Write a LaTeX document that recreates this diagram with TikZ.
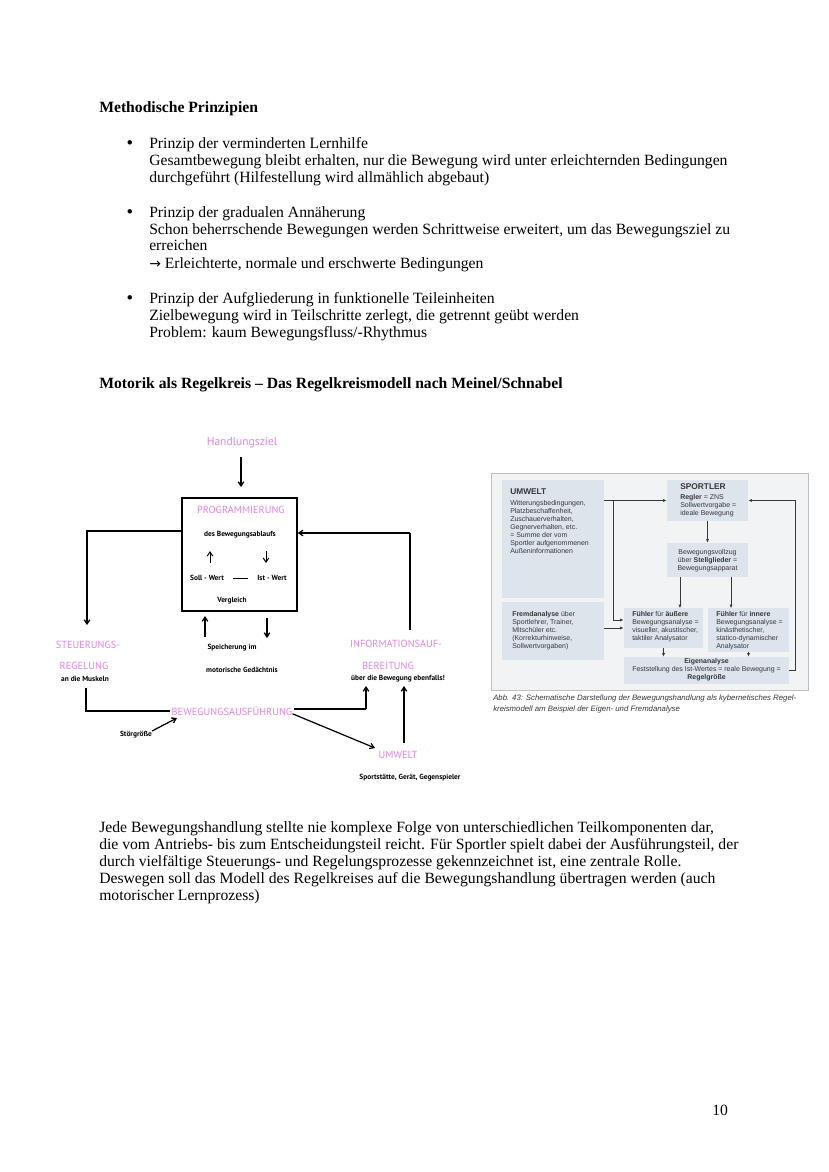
\documentclass[tikz,border=0pt]{standalone}
\usepackage{fontspec}
\setmainfont{Liberation Serif}
\newfontfamily\handfont{PT Sans}
\newfontfamily\printfont{Liberation Sans}
\newfontfamily\symfont{DejaVu Sans}
\usetikzlibrary{arrows.meta}
\definecolor{handpink}{RGB}{226,132,226}
\definecolor{boxfill}{RGB}{221,228,235}
\definecolor{framefill}{RGB}{242,243,245}
\definecolor{printgray}{RGB}{55,55,60}
\tikzset{
  txt/.style={anchor=base west,inner sep=0pt,font=\fontsize{11.25}{13}\selectfont},
  txtb/.style={txt,font=\fontsize{11.25}{13}\selectfont\bfseries},
  pinklab/.style={inner sep=1pt,text=handpink,font=\handfont\fontsize{7.4}{8}\selectfont},
  handlab/.style={inner sep=1pt,font=\handfont\bfseries\fontsize{5.3}{6}\selectfont},
  hline/.style={line width=0.9pt,black},
  harrow/.style={hline,-{Straight Barb[length=3pt,width=4pt]}},
  pbox/.style={fill=boxfill,draw=none,inner sep=0pt},
  ptext/.style={anchor=north west,inner sep=0pt,align=left,text=printgray,font=\printfont\fontsize{5}{5.75}\selectfont},
  pline/.style={line width=0.55pt,printgray},
  parrow/.style={pline,-{Latex[length=2.6pt,width=2.2pt]}},
  bul/.style={anchor=base,inner sep=0pt,font=\symfont\fontsize{11}{13}\selectfont},
}
\begin{document}
\begin{tikzpicture}[x=0.7186pt,y=-0.7186pt]
\useasboundingbox (0,0) rectangle (828,1172);
\fill[white] (0,0) rectangle (828,1172);

% ---------- top text ----------
\node[txtb] (h1) at (99,112) {Methodische Prinzipien};
\node[bul] (b1) at (130,148) {•};
\node[txt] (l11) at (149,148) {Prinzip der verminderten Lernhilfe};
\node[txt] (l12) at (149,165) {Gesamtbewegung bleibt erhalten, nur die Bewegung wird unter erleichternden Bedingungen};
\node[txt] (l13) at (149,182) {durchgeführt (Hilfestellung wird allmählich abgebaut)};
\node[bul] (b2) at (130,217) {•};
\node[txt] (l21) at (149,217) {Prinzip der gradualen Annäherung};
\node[txt] (l22) at (149,234) {Schon beherrschende Bewegungen werden Schrittweise erweitert, um das Bewegungsziel zu};
\node[txt] (l23) at (149,250) {erreichen};
\node[txt] (l24) at (149,268) {{\symfont\fontsize{10}{11}\selectfont →} Erleichterte, normale und erschwerte Bedingungen};
\node[bul] (b3) at (130,303) {•};
\node[txt] (l31) at (149,303) {Prinzip der Aufgliederung in funktionelle Teileinheiten};
\node[txt] (l32) at (149,320) {Zielbewegung wird in Teilschritte zerlegt, die getrennt geübt werden};
\node[txt] (l33) at (149,337) {Problem: kaum Bewegungsfluss/-Rhythmus};
\node[txtb] (h2) at (99,388) {Motorik als Regelkreis – Das Regelkreismodell nach Meinel/Schnabel};

% ---------- hand-drawn diagram ----------
\node[pinklab,font=\handfont\fontsize{8.3}{9}\selectfont] (hz) at (242,443) {Handlungsziel};
\node[draw,line width=1pt,minimum width=82.6pt,minimum height=81.2pt,inner sep=0pt] (prog) at (239.5,554.5) {};
\node[pinklab] (progt) at (241,510) {PROGRAMMIERUNG};
\node[handlab] (des) at (240,535) {des Bewegungsablaufs};
\node[handlab] (soll) at (207,578) {Soll - Wert};
\node[handlab] (ist) at (272,578) {Ist - Wert};
\node[handlab] (vgl) at (232,601) {Vergleich};
\coordinate (ua1) at (210,563); \coordinate (ua2) at (210,551);
\coordinate (da1) at (266,551); \coordinate (da2) at (266,563);
\draw[harrow,line width=0.7pt] (ua1) -- (ua2);
\draw[harrow,line width=0.7pt] (da1) -- (da2);
\coordinate (dsh1) at (233,578); \coordinate (dsh2) at (248,578);
\draw[hline,line width=0.7pt] (dsh1) -- (dsh2);

\node[pinklab] (steu1) at (88,645) {STEUERUNGS-};
\node[pinklab] (steu2) at (84,666) {REGELUNG};
\node[handlab] (steu3) at (85,679) {an die Muskeln};
\node[pinklab] (bew) at (232,711) {BEWEGUNGSAUSFÜHRUNG};
\node[handlab] (stoer) at (136,735) {Störgröße};
\node[handlab] (sp1) at (232,648) {Speicherung im};
\node[handlab] (sp2) at (242,670) {motorische Gedächtnis};
\node[pinklab] (info1) at (396,644) {INFORMATIONSAUF-};
\node[pinklab] (info2) at (388,666) {BEREITUNG};
\node[handlab] (info3) at (398,679) {über die Bewegung ebenfalls!};
\node[pinklab] (umw) at (398,755) {UMWELT};
\node[handlab] (umw2) at (410,778) {Sportstätte, Gerät, Gegenspieler};

\coordinate (hz1) at (241,457);
\coordinate (hz2) at (241,487);
\coordinate (c1) at (87,531);
\coordinate (c2) at (87,625);
\coordinate (c3) at (86,688);
\coordinate (c4) at (86,711);
\coordinate (c5) at (410,630);
\coordinate (c6) at (410,533);
\coordinate (c7) at (366,709);
\coordinate (c8) at (366,686);
\coordinate (c9) at (404,743);
\coordinate (c10) at (404,686);
\coordinate (c11) at (375,748);
\coordinate (c12) at (152,731);
\coordinate (c13) at (177,718);
\coordinate (s1) at (205,637); \coordinate (s2) at (205,616);
\coordinate (s3) at (267,618); \coordinate (s4) at (267,638);

\draw[harrow] (hz1) -- (hz2);
\draw[harrow] (prog.west |- c1) -- (c1) -- (c2);
\draw[hline] (c3) -- (c4) -- (bew.west |- c4);
\draw[hline] (bew.east |- c7) -- (c7);
\draw[harrow] (c7) -- (c8);
\draw[harrow] ([xshift=-1pt,yshift=-2pt]bew.east) -- (c11);
\draw[harrow] (c9) -- (c10);
\draw[hline] (c5) -- (c6);
\draw[harrow] (c6) -- (prog.east |- c6);
\draw[harrow] (c12) -- (c13);
\draw[harrow] (s1) -- (s2);
\draw[harrow] (s3) -- (s4);

% ---------- printed diagram ----------
\node[fill=framefill,draw=black!25,line width=0.6pt,minimum width=227.8pt,minimum height=155.9pt,inner sep=0pt] (frame) at (649.5,581.5) {};
\node[pbox,minimum width=73.3pt,minimum height=84.8pt] (pumw) at (553,539) {};
\node[pbox,minimum width=73.3pt,minimum height=41.7pt] (pfremd) at (553,631) {};
\node[pbox,minimum width=58.2pt,minimum height=29.5pt] (psport) at (707.5,500.5) {};
\node[pbox,minimum width=58.2pt,minimum height=24.4pt] (pvoll) at (707.5,560) {};
\node[pbox,minimum width=56.8pt,minimum height=28.7pt] (paus) at (663.5,628) {};
\node[pbox,minimum width=58.2pt,minimum height=31.6pt] (pinn) at (748.5,630) {};
\node[pbox,minimum width=118.6pt,minimum height=19.4pt] (peig) at (706.5,670.5) {};

\node[ptext,font=\printfont\fontsize{6}{7}\selectfont\bfseries] (tumw) at (510,488) {UMWELT};
\node[ptext] (tumw2) at (510,500) {Witterungsbedingungen,\\Platzbeschaffenheit,\\Zuschauerverhalten,\\Gegnerverhalten, etc.\\= Summe der vom\\Sportler aufgenommenen\\Außeninformationen};
\node[ptext] (tfremd) at (512,611) {\textbf{Fremdanalyse} über\\Sportlehrer, Trainer,\\Mitschüler etc.\\(Korrekturhinweise,\\Sollwertvorgaben)};
\node[ptext,font=\printfont\fontsize{6}{7}\selectfont\bfseries] (tsport) at (680,483) {SPORTLER};
\node[ptext] (tsport2) at (680,494) {\textbf{Regler} = ZNS\\Sollwertvorgabe =\\ideale Bewegung};
\node[ptext,anchor=north,align=center] (tvoll) at (707.5,549) {Bewegungsvollzug\\über \textbf{Stellglieder} =\\Bewegungsapparat};
\node[ptext] (taus) at (632,611) {\textbf{Fühler} für \textbf{äußere}\\Bewegungsanalyse =\\visueller, akustischer,\\taktiler Analysator};
\node[ptext] (tinn) at (716,611) {\textbf{Fühler} für \textbf{innere}\\Bewegungsanalyse =\\kinästhetischer,\\statico-dynamischer\\Analysator};
\node[ptext,anchor=north,align=center] (teig) at (706.5,658.5) {\textbf{Eigenanalyse}\\Feststellung des Ist-Wertes = reale Bewegung =\\\textbf{Regelgröße}};
\node[ptext,font=\printfont\itshape\fontsize{5.6}{7.9}\selectfont] (tcap) at (493,695) {Abb. 43: Schematische Darstellung der Bewegungshandlung als kybernetisches Regel-\\kreismodell am Beispiel der Eigen- und Fremdanalyse};

\coordinate (pbr) at (613,500.5);
\draw[parrow] (pumw.east |- psport.west) -- (psport.west);
\draw[parrow] (pbr) |- ([yshift=5.75pt]paus.west);
\draw[parrow] (pfremd.east |- paus.west) -- (paus.west);
\draw[parrow] (psport.south) -- (pvoll.north);
\draw[parrow] ([xshift=-19.8pt]pvoll.south) -- ++(0,31);
\draw[parrow] ([xshift=16.9pt]pvoll.south) -- ++(0,31);
\draw[parrow] (paus.south) -- (paus.south |- peig.north);
\draw[parrow] (pinn.south) -- (pinn.south |- peig.north);
\draw[parrow] (peig.east) -- ++(6,0) |- (psport.east);

% ---------- bottom text ----------
\node[txt] (p1) at (99,832) {Jede Bewegungshandlung stellte nie komplexe Folge von unterschiedlichen Teilkomponenten dar,};
\node[txt] (p2) at (99,849) {die vom Antriebs- bis zum Entscheidungsteil reicht. Für Sportler spielt dabei der Ausführungsteil, der};
\node[txt] (p3) at (99,866) {durch vielfältige Steuerungs- und Regelungsprozesse gekennzeichnet ist, eine zentrale Rolle.};
\node[txt] (p4) at (99,883) {Deswegen soll das Modell des Regelkreises auf die Bewegungshandlung übertragen werden (auch};
\node[txt] (p5) at (99,900) {motorischer Lernprozess)};
\node[txt] (pg) at (712,1115) {10};
\end{tikzpicture}
\end{document}
